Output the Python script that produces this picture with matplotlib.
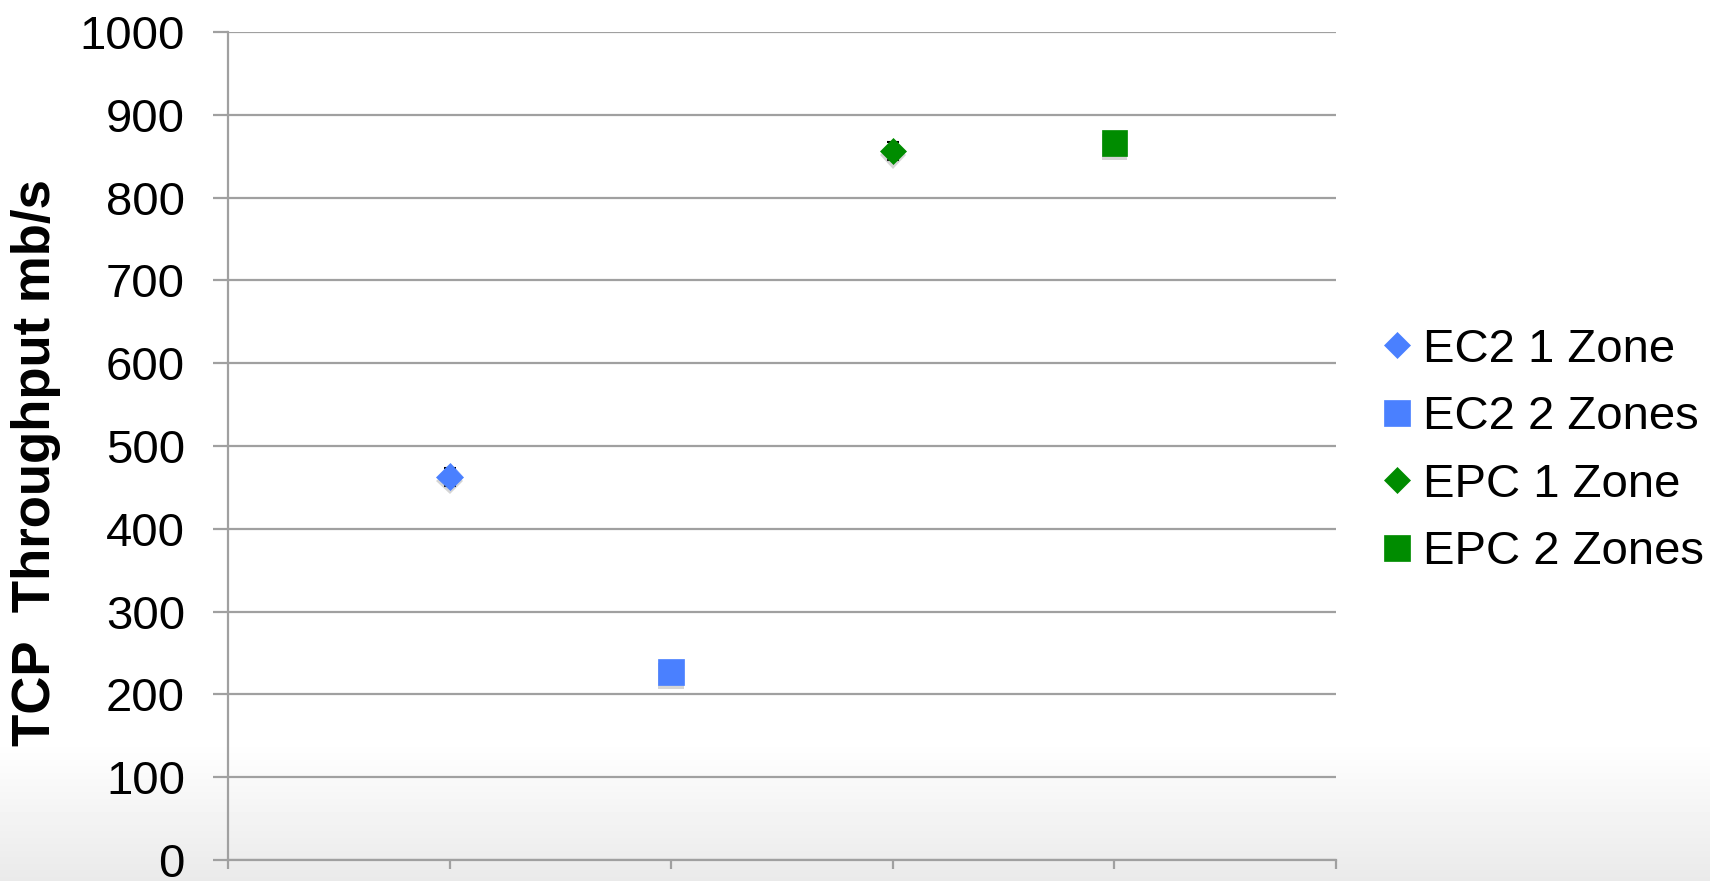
import numpy as np
import matplotlib
matplotlib.use("Agg")
import matplotlib.pyplot as plt
import matplotlib.patheffects as pe

plt.rcParams['font.family'] = ['Liberation Sans', 'DejaVu Sans']

# ---- data ----
series_names = ["EC2 1 Zone", "EC2 2 Zones", "EPC 1 Zone", "EPC 2 Zones"]
x_positions = [1, 2, 3, 4]
throughput = [463, 227, 856, 866]
errors = [11, 9, 11, 9]
markers = ["D", "s", "D", "s"]
colors = ["#4A80FF", "#4A80FF", "#008C00", "#008C00"]
y_ticks = [0, 100, 200, 300, 400, 500, 600, 700, 800, 900, 1000]
y_label = "TCP  Throughput mb/s"

W, H = 1710, 881
fig = plt.figure(figsize=(W / 100, H / 100), dpi=100)

# slide background gradient (white -> light grey near the bottom)
bg = fig.add_axes([0, 0, 1, 1], zorder=-10)
rows = np.arange(H)
start = 740
vals = np.where(rows < start, 1.0, 1.0 - (rows - start) / (H - start) * 0.085)
grad = np.repeat(vals[:, None], 4, axis=1)
bg.imshow(grad, cmap="gray", vmin=0, vmax=1, aspect="auto",
          extent=[0, 1, 0, 1], origin="upper", interpolation="nearest")
bg.set_axis_off()

ax = fig.add_axes([228 / W, 1 - 860 / H, (1336 - 228) / W, (860 - 32) / H])
ax.set_facecolor("none")

grid_c = "#A0A0A0"
ax.set_xlim(0, 5)
ax.set_ylim(0, 1000)
ax.set_yticks(y_ticks)
ax.set_xticks(range(6))
ax.set_xticklabels([])
ax.yaxis.grid(True, color=grid_c, lw=1.6)
ax.set_axisbelow(True)
for s in ["top", "right"]:
    ax.spines[s].set_visible(False)
for s in ["left", "bottom"]:
    ax.spines[s].set_color(grid_c)
    ax.spines[s].set_linewidth(1.6)
ax.tick_params(axis="y", length=11, width=1.6, color=grid_c, labelsize=34, pad=20)
ax.tick_params(axis="x", length=6.5, width=1.6, color=grid_c)

shadow = [pe.SimplePatchShadow(offset=(0, -3), shadow_rgbFace="#777777", alpha=0.3), pe.Normal()]
handles = []
for xi, yi, ei, m, c, name in zip(x_positions, throughput, errors, markers, colors, series_names):
    ax.errorbar([xi], [yi], yerr=[ei], fmt="none", ecolor="black", elinewidth=1.2,
                capsize=4.5, capthick=1.5, zorder=3)
    ms = 13.5 if m == "D" else 18.5
    ln, = ax.plot([xi], [yi], ls="none", marker=m, ms=ms, color=c, mec=c, mew=0.5,
                  zorder=4, label=name, path_effects=shadow)
    handles.append(ln)

fig.text(36 / W, 1 - 463 / H, y_label, rotation=90, fontsize=38, fontweight="bold",
         ha="center", va="center")

leg = fig.legend(handles=handles, loc="center left",
                 bbox_to_anchor=(1383 / W, 1 - 451 / H), frameon=False,
                 fontsize=34, handlelength=0.6, handletextpad=0.25,
                 labelspacing=0.5, borderpad=0, borderaxespad=0, markerscale=1.0)
for h in leg.legend_handles:
    h.set_path_effects([])
    if h.get_marker() == "D":
        h.set_markersize(13.5)
    else:
        h.set_markersize(19)

fig.savefig("out.png", dpi=100)
